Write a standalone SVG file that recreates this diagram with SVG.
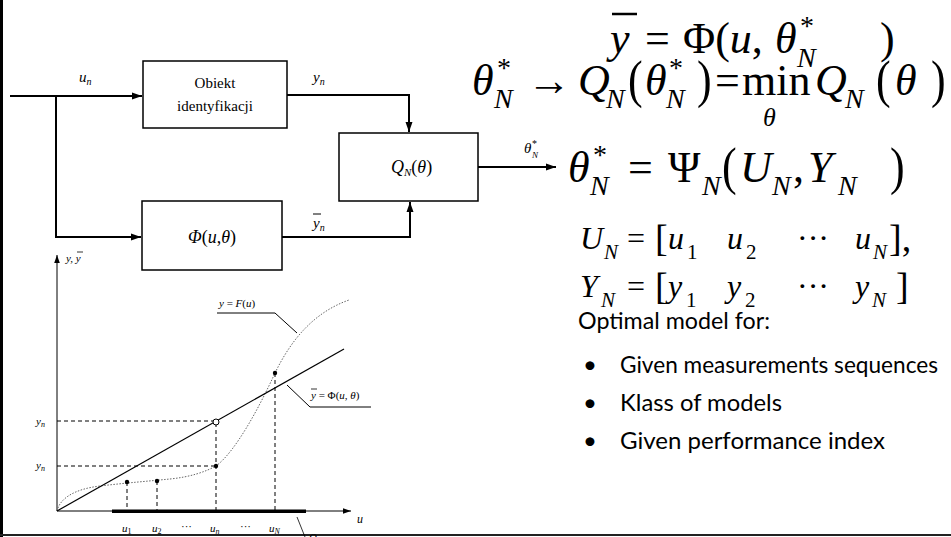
<svg xmlns="http://www.w3.org/2000/svg" width="951" height="537" viewBox="0 0 951 537">
<defs>
<style>
.box{fill:#fff;stroke:#000;stroke-width:1.5}
.wire{fill:none;stroke:#000;stroke-width:2}
.thin{fill:none;stroke:#000;stroke-width:1}
.dash{fill:none;stroke:#000;stroke-width:1;stroke-dasharray:4 3}
.dot{fill:none;stroke:#666;stroke-width:1;stroke-dasharray:1.5 1.5}
.serif{font-family:"Liberation Serif","DejaVu Serif",serif;fill:#000}
.it{font-style:italic}
.sans{font-family:Lato,"Liberation Sans",sans-serif;fill:#000;font-size:24px}
.m{font-size:44px}
.ms{font-size:28px}
</style>
<marker id="ah" viewBox="0 0 10 10" refX="10" refY="5" markerWidth="5" markerHeight="5" orient="auto"><path d="M0,1.5 L10,5 L0,8.5 Z" fill="#000"/></marker>
<marker id="ahs" viewBox="0 0 10 10" refX="10" refY="5" markerWidth="8" markerHeight="8" orient="auto"><path d="M0,1.5 L10,5 L0,8.5 Z" fill="#000"/></marker>
</defs>
<rect width="951" height="537" fill="#fff"/>
<rect x="0" y="0" width="3" height="537" fill="#000"/>
<line x1="0" y1="535" x2="951" y2="535" stroke="#222" stroke-width="2"/>

<g id="connectors">
<path class="wire" d="M10,96 H142" marker-end="url(#ah)"/>
<path class="wire" d="M56,96 V237 H141" marker-end="url(#ah)"/>
<path class="wire" d="M287,95 H409 V132" marker-end="url(#ah)"/>
<path class="wire" d="M282,237 H410 V202" marker-end="url(#ah)"/>
<path class="wire" d="M478,167 H556" marker-end="url(#ah)"/>
<text class="serif it" x="79" y="82" font-size="15">u<tspan font-size="10" dy="3">n</tspan></text>
<text class="serif it" x="313" y="82" font-size="15">y<tspan font-size="10" dy="3">n</tspan></text>
<text class="serif it" x="313" y="228" font-size="15">y<tspan font-size="10" dy="3">n</tspan></text>
<line x1="313" y1="214" x2="321" y2="214" stroke="#000" stroke-width="1"/>
<text class="serif it" x="524" y="153" font-size="15">θ</text>
<text class="serif" x="532" y="147" font-size="10">*</text>
<text class="serif it" x="532" y="158" font-size="9">N</text>
</g>

<g id="obiekt">
<rect class="box" x="143" y="61" width="144" height="67"/>
<text class="serif" x="215" y="88" font-size="15" text-anchor="middle">Obiekt</text>
<text class="serif" x="215" y="111" font-size="15" text-anchor="middle">identyfikacji</text>
</g>

<g id="qn">
<rect class="box" x="339" y="133" width="139" height="68"/>
<text class="serif" x="391" y="173" font-size="18"><tspan class="it">Q</tspan><tspan class="it" font-size="11" dy="3">N</tspan><tspan dy="-3">(</tspan><tspan class="it">θ</tspan>)</text>
</g>

<g id="phi">
<rect class="box" x="142" y="201" width="140" height="69"/>
<text class="serif" x="212" y="243" font-size="18" text-anchor="middle"><tspan class="it">Φ</tspan>(<tspan class="it">u</tspan>,<tspan class="it">θ</tspan>)</text>
</g>

<g id="plot">
<path class="thin" d="M57,511 V255" marker-end="url(#ahs)"/>
<path class="thin" d="M57,511 H351" marker-end="url(#ahs)"/>
<rect x="112" y="509.5" width="194" height="3.5" fill="#000"/>
<path class="dash" d="M57,421 H216 V511 M57,466 H216 M127,482 V511 M157,481 V511 M275,373 V511"/>
<path class="dot" d="M57,511 C60,498 75,489 100,486 S150,481 170,479 S205,472 216,466 C235,452 258,410 275,373 C292,338 315,312 349,300"/>
<line x1="57" y1="511" x2="344" y2="349" stroke="#000" stroke-width="1.2"/>
<circle cx="127" cy="482" r="2.2" fill="#000"/>
<circle cx="157" cy="481" r="2.2" fill="#000"/>
<circle cx="216" cy="466" r="2.2" fill="#000"/>
<circle cx="275" cy="373" r="2.2" fill="#000"/>
<circle cx="216" cy="422" r="3" fill="#fff" stroke="#000" stroke-width="1"/>
<text class="serif it" x="66" y="262" font-size="11">y, y</text>
<line x1="77" y1="252" x2="83" y2="252" stroke="#000" stroke-width="0.8"/>
<text class="serif it" x="36" y="425" font-size="11">y<tspan font-size="8" dy="2">n</tspan></text>
<text class="serif it" x="36" y="469" font-size="11">y<tspan font-size="8" dy="2">n</tspan></text>
<text class="serif it" x="122" y="532" font-size="11">u<tspan font-size="8" dy="2" font-style="normal">1</tspan></text>
<text class="serif it" x="152" y="532" font-size="11">u<tspan font-size="8" dy="2" font-style="normal">2</tspan></text>
<text class="serif" x="181" y="530" font-size="11">···</text>
<text class="serif it" x="210" y="532" font-size="11">u<tspan font-size="8" dy="2">n</tspan></text>
<text class="serif" x="240" y="530" font-size="11">···</text>
<text class="serif it" x="269" y="532" font-size="11">u<tspan font-size="8" dy="2">N</tspan></text>
<text class="serif it" x="357" y="523" font-size="12">u</text>
<line x1="297" y1="517" x2="305" y2="537" stroke="#000" stroke-width="0.8"/>
<text class="serif it" x="309" y="541" font-size="11" fill="#555">Ω</text>
<text class="serif" x="219" y="307" font-size="11"><tspan class="it">y</tspan> = <tspan class="it">F</tspan>(<tspan class="it">u</tspan>)</text>
<path class="thin" d="M217,313 H275 L297,333"/>
<text class="serif" x="311" y="399" font-size="11"><tspan class="it">y</tspan> = Φ(<tspan class="it">u</tspan>, <tspan class="it">θ</tspan>)</text>
<line x1="311" y1="389" x2="317" y2="389" stroke="#000" stroke-width="0.8"/>
<path class="thin" d="M371,407 H310 L287,385"/>
</g>

<g id="equations">
<text class="serif m it" x="610" y="53">y</text>
<line x1="612" y1="14" x2="637" y2="14" stroke="#000" stroke-width="2.5"/>
<text class="serif m" x="645" y="53">=</text>
<text class="serif m" x="683" y="53">Φ(<tspan class="it">u</tspan>,</text>
<text class="serif m it" x="775" y="53">θ</text>
<text class="serif ms" x="800" y="35">*</text>
<text class="serif ms it" x="797" y="67">N</text>
<text class="serif m" x="880" y="53">)</text>

<text class="serif m it" x="472" y="95">θ</text>
<text class="serif ms" x="497" y="77">*</text>
<text class="serif ms it" x="494" y="108">N</text>
<text class="serif m" x="527" y="95">→</text>
<text class="serif m it" x="578" y="95">Q</text>
<text class="serif ms it" x="606" y="108">N</text>
<text class="serif m" transform="translate(628,97) scale(1,1.2)">(</text>
<text class="serif m it" x="645" y="95">θ</text>
<text class="serif ms" x="669" y="77">*</text>
<text class="serif ms it" x="666" y="108">N</text>
<text class="serif m" transform="translate(697,97) scale(1,1.2)">)</text>
<text class="serif m" x="715" y="95">=</text>
<text class="serif m" x="742" y="95">min</text>
<text class="serif it" x="763" y="126" font-size="26">θ</text>
<text class="serif m it" x="815" y="95">Q</text>
<text class="serif ms it" x="845" y="108">N</text>
<text class="serif m" transform="translate(876,97) scale(1,1.2)">(</text>
<text class="serif m it" x="895" y="95">θ</text>
<text class="serif m" transform="translate(931,97) scale(1,1.2)">)</text>

<text class="serif m it" x="568" y="182">θ</text>
<text class="serif ms" x="593" y="164">*</text>
<text class="serif ms it" x="590" y="195">N</text>
<text class="serif m" x="628" y="182">=</text>
<text class="serif m" x="668" y="182">Ψ</text>
<text class="serif ms it" x="702" y="195">N</text>
<text class="serif m" transform="translate(722,184) scale(1,1.2)">(</text>
<text class="serif m it" x="740" y="182">U</text>
<text class="serif ms it" x="772" y="195">N</text>
<text class="serif m" x="793" y="182">,</text>
<text class="serif m it" x="808" y="182">Y</text>
<text class="serif ms it" x="838" y="195">N</text>
<text class="serif m" transform="translate(890,184) scale(1,1.2)">)</text>

<text class="serif it" x="580" y="249" font-size="32">U</text>
<text class="serif it" x="604" y="259" font-size="21">N</text>
<text class="serif" x="627" y="249" font-size="32">=</text>
<text class="serif" x="655" y="251" font-size="38">[</text>
<text class="serif it" x="668" y="249" font-size="32">u</text>
<text class="serif" x="687" y="259" font-size="21">1</text>
<text class="serif it" x="727" y="249" font-size="32">u</text>
<text class="serif" x="746" y="259" font-size="21">2</text>
<text class="serif" x="797" y="249" font-size="32">···</text>
<text class="serif it" x="855" y="249" font-size="32">u</text>
<text class="serif it" x="873" y="259" font-size="21">N</text>
<text class="serif" x="889" y="251" font-size="38">],</text>

<text class="serif it" x="580" y="297" font-size="32">Y</text>
<text class="serif it" x="601" y="307" font-size="21">N</text>
<text class="serif" x="627" y="297" font-size="32">=</text>
<text class="serif" x="655" y="299" font-size="38">[</text>
<text class="serif it" x="668" y="297" font-size="32">y</text>
<text class="serif" x="686" y="307" font-size="21">1</text>
<text class="serif it" x="727" y="297" font-size="32">y</text>
<text class="serif" x="745" y="307" font-size="21">2</text>
<text class="serif" x="797" y="297" font-size="32">···</text>
<text class="serif it" x="855" y="297" font-size="32">y</text>
<text class="serif it" x="872" y="307" font-size="21">N</text>
<text class="serif" x="896" y="299" font-size="38">]</text>
</g>

<g id="notes">
<text class="sans" x="578" y="329" textLength="192" lengthAdjust="spacingAndGlyphs">Optimal model for:</text>
<text class="sans" x="583" y="373">•</text>
<text class="sans" x="620" y="373" textLength="318" lengthAdjust="spacingAndGlyphs">Given measurements sequences</text>
<text class="sans" x="583" y="411">•</text>
<text class="sans" x="620" y="411" textLength="162" lengthAdjust="spacingAndGlyphs">Klass of models</text>
<text class="sans" x="583" y="449">•</text>
<text class="sans" x="620" y="449" textLength="265" lengthAdjust="spacingAndGlyphs">Given performance index</text>
</g>
</svg>
